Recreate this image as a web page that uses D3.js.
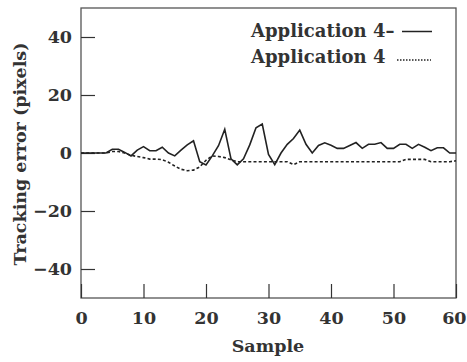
<!DOCTYPE html>
<html>
<head>
<meta charset="utf-8">
<script src="https://cdn.jsdelivr.net/npm/d3@7"></script>
<style>
  body { margin: 0; background: #fff; }
  svg { display: block; }
  text { font-family: "DejaVu Serif", serif; font-weight: bold; fill: #333; }
</style>
</head>
<body>
<svg width="467" height="362"></svg>
<script>
// tracking error per sample, index = sample number (0..60)
const appDash = [0, 0, 0, 0, 0, 1.3, 1.3, 0.2, -1, 1,
    2.2, 0.8, 0.8, 2, 0, -1, 1, 2.8, 4.2, -3,
    -4.1, -1, 2.5, 8.2, -2, -4.1, -2, 2.8, 8.7, 10,
    -0.5, -4, 0, 3, 5, 7.9, 3, 0, 2.6, 3.5,
    2.7, 1.6, 1.6, 2.6, 3.6, 1.6, 3, 3, 3.6, 1.6,
    1.6, 3, 3, 1.6, 3, 2, 0.8, 1.8, 1.8, 0, 0]
const app4 = [0, 0, 0, 0, 0, 0.5, 0.5, 0, -0.8, -1.2,
    -1.6, -2.1, -2.1, -2.3, -3.2, -4.5, -5.6, -6.1, -5.9, -4.8,
    -2.5, -1, -1.2, -1.6, -2.4, -3, -3, -3, -3, -3,
    -3, -3, -3, -3, -4, -3, -3, -3, -3, -3,
    -3, -3, -3, -3, -3, -3, -3, -3, -3, -3,
    -3, -3, -2.2, -2.2, -2.2, -2.2, -3, -3, -3, -3, -2.7]
const xTicks = [0, 10, 20, 30, 40, 50, 60]
const yTicks = [-40, -20, 0, 20, 40]
const legendNames = ["Application 4\u2013", "Application 4"]

const svg = d3.select('svg')
const mLeft = 81, mRight = 456, mTop = 8, mBottom = 298

const x = d3.scaleLinear().domain([0, 60]).range([mLeft, mRight])
const y = d3.scaleLinear().domain([-50, 50]).range([mBottom, mTop])

// frame
svg.append('rect')
    .attr('x', mLeft).attr('y', mTop)
    .attr('width', mRight - mLeft).attr('height', mBottom - mTop)
    .attr('fill', 'none')
    .attr('stroke', '#555')
    .attr('stroke-width', 1.3)

const yAxis = svg.append('g')
    .attr('transform', `translate(${mLeft},0)`)
    .call(d3.axisLeft(y).tickValues(yTicks).tickSize(-14).tickSizeOuter(0).tickPadding(9)
        .tickFormat(d => d < 0 ? '\u2212' + Math.abs(d) : d))
const xAxis = svg.append('g')
    .attr('transform', `translate(0,${mBottom})`)
    .call(d3.axisBottom(x).tickValues(xTicks).tickSize(-14).tickSizeOuter(0).tickPadding(14))

for (const ax of [xAxis, yAxis]) {
    ax.select('.domain').remove()
    ax.selectAll('line').attr('stroke', '#333').attr('stroke-width', 1.2)
    ax.selectAll('text')
        .attr('font-size', 17.5)
        .attr('font-family', '"DejaVu Serif", serif')
        .attr('font-weight', 'bold')
        .attr('fill', '#333')
}
// last x label sits against the right edge, keep it inside
xAxis.selectAll('.tick text').filter(d => d === 60)
    .attr('text-anchor', 'end').attr('x', 10)

const line = d3.line()
    .x((d, i) => x(i))
    .y(d => y(d))

svg.append('path')
    .datum(app4)
    .attr('d', line)
    .attr('fill', 'none')
    .attr('stroke', '#222')
    .attr('stroke-width', 1.6)
    .attr('stroke-dasharray', '3,2.2')

svg.append('path')
    .datum(appDash)
    .attr('d', line)
    .attr('fill', 'none')
    .attr('stroke', '#222')
    .attr('stroke-width', 1.6)

// legend
const legend = svg.append('g')
legend.selectAll('text')
    .data(legendNames)
    .enter().append('text')
    .attr('x', 251)
    .attr('y', (d, i) => 37 + i * 26)
    .attr('font-size', 18)
    .text(d => d)
legend.append('line')
    .attr('x1', 402).attr('x2', 432).attr('y1', 31.5).attr('y2', 31.5)
    .attr('stroke', '#222').attr('stroke-width', 1.5)
legend.append('line')
    .attr('x1', 397).attr('x2', 431).attr('y1', 60).attr('y2', 60)
    .attr('stroke', '#222').attr('stroke-width', 1.5)
    .attr('stroke-dasharray', '1.5,1.5')

// axis titles
svg.append('text')
    .attr('x', 268).attr('y', 352)
    .attr('text-anchor', 'middle')
    .attr('font-size', 17.5)
    .text('Sample')
svg.append('text')
    .attr('transform', 'translate(26,154) rotate(-90)')
    .attr('text-anchor', 'middle')
    .attr('font-size', 17.5)
    .text('Tracking error (pixels)')
</script>
</body>
</html>
